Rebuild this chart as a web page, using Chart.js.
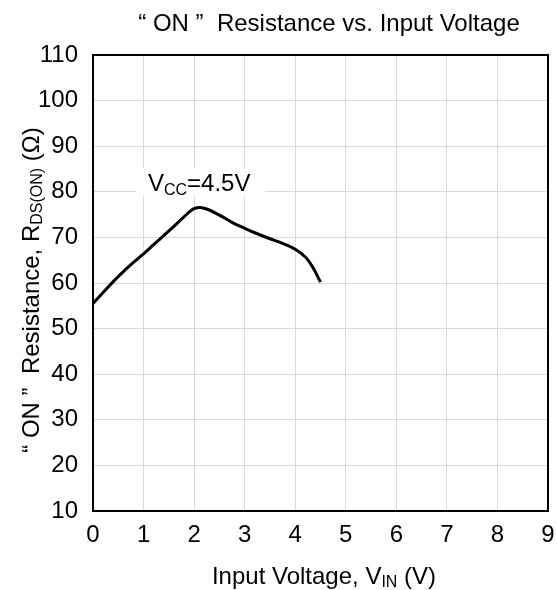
<!DOCTYPE html>
<html>
<head>
<meta charset="utf-8">
<script src="https://cdn.jsdelivr.net/npm/chart.js@4/dist/chart.umd.min.js"></script>
<style>
  html, body { margin: 0; padding: 0; background: #fff; }
  #wrap { width: 557px; height: 590px; }
</style>
</head>
<body>
<div id="wrap"><canvas id="chart" width="557" height="590"></canvas></div>
<script>
// Input voltage (V) and "ON" resistance (ohm)
const vin = [0, 0.2, 0.4, 0.6, 0.8, 1, 1.2, 1.4, 1.6, 1.8, 2, 2.2, 2.5, 2.75, 3, 3.25, 3.5, 3.75, 4, 4.2, 4.35, 4.5];
const ron = [55.5, 57.9, 60.3, 62.5, 64.5, 66.4, 68.4, 70.4, 72.4, 74.5, 76.3, 76.4, 74.9, 73.3, 72.0, 70.8, 69.7, 68.7, 67.4, 65.7, 63.4, 60.2];
const xTicks = [0, 1, 2, 3, 4, 5, 6, 7, 8, 9];
const yTicks = [10, 20, 30, 40, 50, 60, 70, 80, 90, 100, 110];
const seriesLabel = ['V', 'CC', '=4.5V'];
const labelAt = { x: 2.12, y: 82.0 };

const FONT = '"Liberation Sans", Arial, sans-serif';

// draw text made of [main, sub, main] pieces, centered at (x, y)
function drawSubText(ctx, parts, x, y, size) {
    const subSize = Math.round(size * 0.68);
    const widths = parts.map((p, i) => {
        ctx.font = (i % 2 ? subSize : size) + 'px ' + FONT;
        return ctx.measureText(p).width;
    });
    const total = widths.reduce((a, b) => a + b, 0);
    let cx = x - total / 2;
    ctx.textBaseline = 'alphabetic';
    ctx.textAlign = 'left';
    const base = y + size * 0.36;
    parts.forEach((p, i) => {
        ctx.font = (i % 2 ? subSize : size) + 'px ' + FONT;
        ctx.fillText(p, cx, i % 2 ? base + size * 0.14 : base);
        cx += widths[i];
    });
    return total;
}

const decorPlugin = {
    id: 'decor',
    afterDraw(chart) {
        const ctx = chart.ctx;
        const a = chart.chartArea;
        ctx.save();
        ctx.fillStyle = '#000';

        // plot frame
        ctx.strokeStyle = '#000';
        ctx.lineWidth = 2;
        ctx.strokeRect(a.left, a.top, a.right - a.left, a.bottom - a.top);

        // title
        ctx.font = '24px ' + FONT;
        ctx.textAlign = 'center';
        ctx.textBaseline = 'middle';
        ctx.fillText('\u201c ON \u201d  Resistance vs. Input Voltage', 329, 24);

        // x axis title
        drawSubText(ctx, ['Input Voltage, V', 'IN', ' (V)'], 324, 575, 24);

        // y axis title
        ctx.save();
        ctx.translate(30, 290);
        ctx.rotate(-Math.PI / 2);
        drawSubText(ctx, ['\u201c ON \u201d  Resistance, R', 'DS(ON)', ' (\u03a9)'], 0, 0, 24);
        ctx.restore();

        // series label with white box
        const px = chart.scales.x.getPixelForValue(labelAt.x);
        const py = chart.scales.y.getPixelForValue(labelAt.y);
        ctx.fillStyle = '#fff';
        ctx.fillRect(px - 64, py - 14, 129, 28);
        ctx.fillStyle = '#000';
        drawSubText(ctx, seriesLabel, px - 1, py, 24);
        ctx.restore();
    }
};

new Chart(document.getElementById('chart'), {
    type: 'line',
    data: {
        datasets: [{
            data: vin.map((v, i) => ({ x: v, y: ron[i] })),
            borderColor: '#000',
            borderWidth: 3,
            pointRadius: 0,
            fill: false,
            tension: 0.35
        }]
    },
    options: {
        responsive: false,
        animation: false,
        layout: { padding: { top: 55, right: 9, left: 0, bottom: 0 } },
        plugins: { legend: { display: false }, tooltip: { enabled: false } },
        scales: {
            x: {
                type: 'linear',
                min: 0,
                max: 9,
                afterBuildTicks: s => { s.ticks = xTicks.map(v => ({ value: v })); },
                afterFit: s => { s.height = 79; s.paddingRight = 0; s.paddingLeft = 0; },
                grid: { color: '#d9d9d9', lineWidth: 1, drawTicks: false },
                border: { display: false },
                ticks: { color: '#000', padding: 10, maxRotation: 0, font: { size: 24, family: FONT } }
            },
            y: {
                type: 'linear',
                min: 10,
                max: 110,
                afterBuildTicks: s => { s.ticks = yTicks.map(v => ({ value: v })); },
                afterFit: s => { s.width = 93; s.paddingTop = 0; s.paddingBottom = 0; },
                grid: { color: '#d9d9d9', lineWidth: 1, drawTicks: false },
                border: { display: false },
                ticks: { color: '#000', padding: 15, font: { size: 24, family: FONT } }
            }
        }
    },
    plugins: [decorPlugin]
});
</script>
</body>
</html>
